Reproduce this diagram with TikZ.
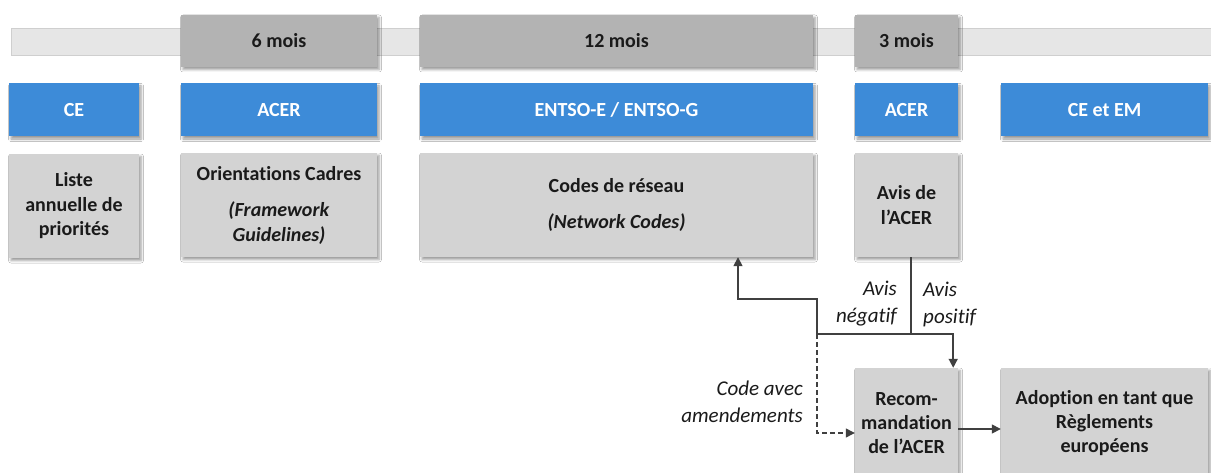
\documentclass[tikz,border=0pt]{standalone}
\usepackage{fontspec}
\setmainfont[Ligatures=NoCommon]{Carlito}
\usetikzlibrary{arrows.meta,shadows.blur}
\definecolor{blueh}{HTML}{3D8BD8}
\definecolor{durg}{HTML}{B3B3B3}
\definecolor{boxg}{HTML}{D3D3D3}
\definecolor{barg}{HTML}{E6E6E6}
\definecolor{barb}{HTML}{CFCFCF}
\definecolor{txt}{HTML}{1A1A1A}
\definecolor{linec}{HTML}{404040}
\tikzset{
  shad/.style={blur shadow={shadow xshift=2pt, shadow yshift=-2.5pt, shadow blur radius=2.5pt, shadow opacity=40}},
  durbox/.style={shad, fill=durg, minimum height=52pt, inner sep=0pt, text=txt, font=\fontsize{20}{24.5}\selectfont\bfseries},
  headbox/.style={shad, fill=blueh, minimum height=53pt, inner sep=0pt, text=white, font=\fontsize{20}{24.5}\selectfont\bfseries},
  contbox/.style={shad, fill=boxg, minimum height=104pt, inner sep=0pt, text=txt, align=center, font=\fontsize{20}{24.5}\selectfont\bfseries},
  lowbox/.style={shad, fill=boxg, minimum height=110pt, inner sep=0pt, text=txt, align=center, font=\fontsize{20}{24}\selectfont\bfseries},
  lbl/.style={text=txt, inner sep=0pt, font=\fontsize{21}{27}\selectfont\itshape},
  conn/.style={draw=linec, line width=1.5pt},
  arr/.style={conn, -{Triangle[length=9pt,width=9pt]}},
}
\begin{document}
\begin{tikzpicture}[x=1pt,y=-1pt]
\useasboundingbox (0,0) rectangle (1211,473);
\fill[white] (0,0) rectangle (1211,473);
% timeline bar
\draw[barb, fill=barg, line width=0.8pt] (11,28) rectangle (1214,55);
% duration boxes
\node[durbox, minimum width=196pt] (d6) at (279,41) {6 mois};
\node[durbox, minimum width=393pt] (d12) at (616.5,41) {12 mois};
\node[durbox, minimum width=103pt] (d3) at (906.5,41) {3 mois};
% header boxes
\node[headbox, minimum width=130pt] (hce) at (74,110) {CE};
\node[headbox, minimum width=196pt] (hacer) at (279,110) {ACER};
\node[headbox, minimum width=393pt] (hentso) at (616.5,110) {ENTSO-E / ENTSO-G};
\node[headbox, minimum width=103pt] (hacer2) at (906.5,110) {ACER};
\node[headbox, minimum width=207pt] (hceem) at (1104.5,110) {CE et EM};
% content boxes
\node[contbox, minimum width=130pt] (liste) at (74,206) {Liste\\annuelle de\\priorités};
\node[contbox, minimum width=196pt] (orient) at (279,205) {Orientations Cadres\\[12pt]\textit{(Framework}\\\textit{Guidelines)}};
\node[contbox, minimum width=393pt] (codes) at (616.5,205) {Codes de réseau\\[12pt]\textit{(Network Codes)}};
\node[contbox, minimum width=103pt] (avis) at (906.5,205) {Avis de\\l’ACER};
% lower boxes
\node[lowbox, minimum width=103pt] (recom) at (906.5,423) {Recom-\\mandation\\de l’ACER};
\node[lowbox, minimum width=207pt] (adopt) at (1104.5,423) {Adoption en tant que\\Règlements\\européens};
% connectors
\coordinate (split) at (911,334);
\coordinate (left) at (817,334);
\coordinate (up) at (817,299);
\coordinate (dl) at (817,433);
\draw[conn] ([xshift=4.5pt]avis.south) -- (split);
\draw[arr] (left) -| ([xshift=-5pt]recom.north east);
\draw[arr] (left) -- (up) -| ([xshift=121.5pt]codes.south);
\draw[arr, dashed, dash pattern=on 5pt off 3pt, line width=1.2pt] (left) -- (dl) -- (recom.west |- dl);
\draw[arr] ([yshift=-6pt]recom.east) -- ([yshift=-6pt]adopt.west);
% labels
\node[lbl, align=right, anchor=east] (lneg) at (897,304) {Avis\\négatif};
\node[lbl, align=left, anchor=west] (lpos) at (923,304) {Avis\\positif};
\node[lbl, align=right, anchor=east] (lcode) at (803,402) {Code avec\\amendements};
\end{tikzpicture}
\end{document}
